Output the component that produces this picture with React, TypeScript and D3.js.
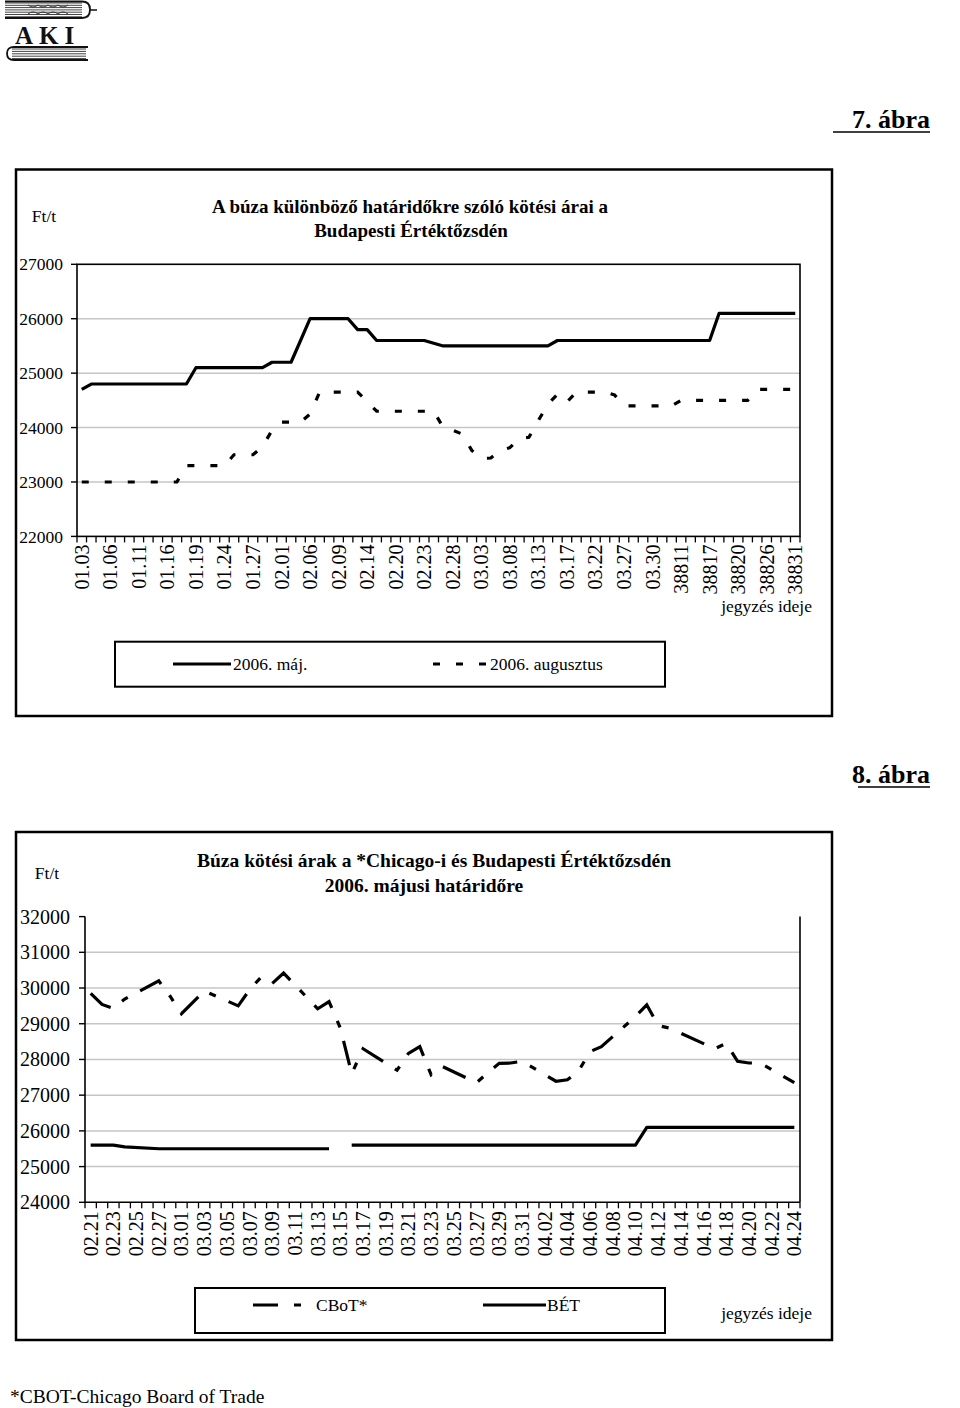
import React from "react";
import * as d3 from "d3";

const FONT = "'Liberation Serif', 'Times New Roman', serif";

// ---------- Chart 1 data ----------
const c1Categories = [
  "01.03", "01.04", "01.05", "01.06", "01.09", "01.10", "01.11", "01.12", "01.13", "01.16",
  "01.17", "01.18", "01.19", "01.20", "01.23", "01.24", "01.25", "01.26", "01.27", "01.30",
  "01.31", "02.01", "02.02", "02.03", "02.06", "02.07", "02.08", "02.09", "02.10", "02.13",
  "02.14", "02.15", "02.17", "02.20", "02.21", "02.22", "02.23", "02.24", "02.27", "02.28",
  "03.01", "03.02", "03.03", "03.06", "03.07", "03.08", "03.09", "03.10", "03.13", "03.14",
  "03.16", "03.17", "03.20", "03.21", "03.22", "03.23", "03.24", "03.27", "03.28", "03.29",
  "03.30", "03.31", "38810", "38811", "38812", "38813", "38817", "38818", "38819", "38820",
  "38824", "38825", "38826", "38827", "38828", "38831",
];
const c1May = [
  24700,
  24800, 24800, 24800, 24800, 24800, 24800, 24800, 24800, 24800, 24800, 24800,
  25100, 25100, 25100, 25100, 25100, 25100, 25100, 25100,
  25200, 25200, 25200,
  25600,
  26000, 26000, 26000, 26000, 26000,
  25800, 25800,
  25600, 25600, 25600, 25600, 25600, 25600,
  25550,
  25500, 25500, 25500, 25500, 25500, 25500, 25500, 25500, 25500, 25500, 25500, 25500,
  25600, 25600, 25600, 25600, 25600, 25600, 25600, 25600, 25600, 25600, 25600, 25600, 25600, 25600, 25600, 25600, 25600,
  26100, 26100, 26100, 26100, 26100, 26100, 26100, 26100, 26100,
];
const c1Aug = [
  23000, 23000, 23000, 23000, 23000, 23000, 23000, 23000, 23000, 23000, 23000,
  23300, 23300, 23300, 23300, 23300,
  23500, 23500, 23500,
  23650, 23950,
  24100, 24100, 24100,
  24250,
  24650, 24650, 24650, 24650, 24650,
  24480,
  24300, 24300, 24300, 24300, 24300, 24300, 24300,
  24000, 23950, 23880, 23580, 23430, 23440, 23580, 23630, 23800, 23820, 24130, 24430, 24610, 24470,
  24650, 24650, 24650, 24650,
  24600,
  24400, 24400, 24400, 24400, 24400, 24400,
  24500, 24500, 24500, 24500, 24500, 24500, 24500, 24500,
  24700, 24700, 24700, 24700, 24700,
];
const c1YTicks = [22000, 23000, 24000, 25000, 26000, 27000];

// ---------- Chart 2 data ----------
const c2Categories = [
  "02.21", "02.22", "02.23", "02.24", "02.25", "02.26", "02.27", "02.28",
  "03.01", "03.02", "03.03", "03.04", "03.05", "03.06", "03.07", "03.08", "03.09", "03.10",
  "03.11", "03.12", "03.13", "03.14", "03.15", "03.16", "03.17", "03.18", "03.19", "03.20",
  "03.21", "03.22", "03.23", "03.24", "03.25", "03.26", "03.27", "03.28", "03.29", "03.30",
  "03.31", "04.01", "04.02", "04.03", "04.04", "04.05", "04.06", "04.07", "04.08", "04.09",
  "04.10", "04.11", "04.12", "04.13", "04.14", "04.15", "04.16", "04.17", "04.18", "04.19",
  "04.20", "04.21", "04.22", "04.23", "04.24",
];
const c2TradeDays = [
  "02.21", "02.22", "02.23", "02.24", "02.27", "02.28", "03.01", "03.02", "03.03",
  "03.06", "03.07", "03.08", "03.09", "03.10", "03.13", "03.14", "03.15", "03.16", "03.17",
  "03.20", "03.21", "03.22", "03.23", "03.24", "03.27", "03.28", "03.29", "03.30", "03.31",
  "04.03", "04.04", "04.05", "04.06", "04.07", "04.10", "04.11", "04.12", "04.13",
  "04.17", "04.18", "04.19", "04.20", "04.21", "04.24",
];
const c2Cbot = [
  29850, 29540, 29430, 29690, 30200, 29770, 29280, 29600, 29920,
  29500, 29950, 30300, 30130, 30420, 29420, 29620, 28880, 27600, 28300,
  27700, 28170, 28360, 27570, 27800, 27350, 27630, 27890, 27900, 27950,
  27390, 27430, 27680, 28220, 28360, 29200, 29530, 28950, 28880,
  28300, 28450, 27950, 27900, 27900, 27350,
];
const c2Bet: (number | null)[] = [
  25600, 25600, 25600, 25550, 25500, 25500, 25500, 25500, 25500,
  25500, 25500, 25500, 25500, 25500, 25500, 25500, null, 25600, 25600,
  25600, 25600, 25600, 25600, 25600, 25600, 25600, 25600, 25600, 25600,
  25600, 25600, 25600, 25600, 25600, 25600, 26100, 26100, 26100,
  26100, 26100, 26100, 26100, 26100, 26100,
];
const c2YTicks = [24000, 25000, 26000, 27000, 28000, 29000, 30000, 31000, 32000];

// ---------- layout ----------
const P1 = { l: 77, r: 800, t: 264.3, b: 536.4 };
const P2 = { l: 85, r: 800, t: 916.6, b: 1202.3 };
const GRID = "#c6c6c6";

function Logo() {
  const topLines = d3.range(7).map((k) => 3 + k * 2.3);
  const botLines = d3.range(5).map((k) => 49 + k * 2.4);
  return (
    <g>
      {topLines.map((y, k) => (
        <line key={"t" + k} x1={5} x2={82} y1={y} y2={y} stroke="#444" strokeWidth={1} />
      ))}
      <path d="M5,1.5 L82,1.5 Q90,1.5 90,9.5 Q90,18 82,18 L5,18" fill="none" stroke="#111" strokeWidth={1.8} />
      <path d="M90,10 L97,10" stroke="#111" strokeWidth={1.5} />
      <path d="M28,5 q5,4 10,0 q5,4 10,0 q5,4 10,0 q5,4 10,0 M28,14 q5,-4 10,0 q5,-4 10,0 q5,-4 10,0 q5,-4 10,0"
        fill="none" stroke="#333" strokeWidth={1} />
      <text x={15} y={44} fontFamily={FONT} fontWeight="bold" fontSize={25} letterSpacing={6} fill="#111">AKI</text>
      {botLines.map((y, k) => (
        <line key={"b" + k} x1={12} x2={86} y1={y} y2={y} stroke="#444" strokeWidth={1} />
      ))}
      <path d="M88,47 L14,47 Q7,47 7,53.5 Q7,60 14,60 L88,60" fill="none" stroke="#111" strokeWidth={1.8} />
    </g>
  );
}

function Chart1() {
  const x = d3.scaleBand<number>().domain(d3.range(c1Categories.length)).range([P1.l, P1.r]);
  const cx = (i: number) => (x(i) as number) + x.bandwidth() / 2;
  const y = d3.scaleLinear().domain([22000, 27000]).range([P1.b, P1.t]);
  const line = d3.line<number>().x((_, i) => cx(i)).y((d) => y(d));
  const bounds = d3.range(c1Categories.length + 1).map((k) => P1.l + k * x.bandwidth());
  return (
    <g fontFamily={FONT}>
      <rect x={16} y={169.5} width={816} height={546.5} fill="none" stroke="#000" strokeWidth={2.5} />
      <text x={44} y={222} fontSize={17.5} textAnchor="middle">Ft/t</text>
      <text x={410} y={213} fontSize={19} fontWeight="bold" textAnchor="middle">
        A búza különböző határidőkre szóló kötési árai a
      </text>
      <text x={411} y={237} fontSize={19} fontWeight="bold" textAnchor="middle">Budapesti Értéktőzsdén</text>
      {c1YTicks.slice(1, -1).map((t) => (
        <line key={t} x1={P1.l} x2={P1.r} y1={y(t)} y2={y(t)} stroke={GRID} strokeWidth={1.5} />
      ))}
      <rect x={P1.l} y={P1.t} width={P1.r - P1.l} height={P1.b - P1.t} fill="none" stroke="#000" strokeWidth={1.6} />
      {c1YTicks.map((t) => (
        <g key={t}>
          <line x1={P1.l - 6} x2={P1.l} y1={y(t)} y2={y(t)} stroke="#000" strokeWidth={1.4} />
          <text x={63} y={y(t)} dy="0.35em" fontSize={17.5} textAnchor="end">{t}</text>
        </g>
      ))}
      {bounds.map((bx, k) => (
        <line key={k} x1={bx} x2={bx} y1={P1.b} y2={P1.b + 6} stroke="#000" strokeWidth={1.3} />
      ))}
      {c1Categories.map((c, i) =>
        i % 3 === 0 ? (
          <text key={c} transform={`translate(${cx(i) + 7},${P1.b + 8}) rotate(-90)`} fontSize={20} textAnchor="end">
            {c}
          </text>
        ) : null
      )}
      <path d={line(c1May) || ""} fill="none" stroke="#000" strokeWidth={3.2} strokeLinejoin="round" />
      <path d={line(c1Aug) || ""} fill="none" stroke="#000" strokeWidth={3.2} strokeDasharray="7,16" />
      <text x={812} y={612} fontSize={17.5} textAnchor="end">jegyzés ideje</text>
      <rect x={115} y={641.7} width={550} height={45} fill="none" stroke="#000" strokeWidth={2} />
      <line x1={173} x2={231} y1={664} y2={664} stroke="#000" strokeWidth={3.2} />
      <text x={233} y={669.5} fontSize={17.5}>2006. máj.</text>
      <line x1={433} x2={487} y1={664} y2={664} stroke="#000" strokeWidth={3.2} strokeDasharray="7,16" />
      <text x={490} y={669.5} fontSize={17.5}>2006. augusztus</text>
    </g>
  );
}

function Chart2() {
  const x = d3.scaleBand<string>().domain(c2Categories).range([P2.l, P2.r]);
  const cx = (d: string) => (x(d) as number) + x.bandwidth() / 2;
  const y = d3.scaleLinear().domain([24000, 32000]).range([P2.b, P2.t]);
  const cbotLine = d3.line<number>().x((_, i) => cx(c2TradeDays[i])).y((d) => y(d));
  const betLine = d3
    .line<number | null>()
    .defined((d) => d != null)
    .x((_, i) => cx(c2TradeDays[i]))
    .y((d) => y(d as number));
  const bounds = d3.range(c2Categories.length + 1).map((k) => P2.l + k * x.bandwidth());
  return (
    <g fontFamily={FONT}>
      <rect x={16} y={832} width={816} height={508} fill="none" stroke="#000" strokeWidth={2.5} />
      <text x={47} y={879} fontSize={17.5} textAnchor="middle">Ft/t</text>
      <text x={434} y={867} fontSize={19.5} fontWeight="bold" textAnchor="middle">
        Búza kötési árak a *Chicago-i és Budapesti Értéktőzsdén
      </text>
      <text x={424} y={892} fontSize={19.5} fontWeight="bold" textAnchor="middle">2006. májusi határidőre</text>
      {c2YTicks.slice(1, -1).map((t) => (
        <line key={t} x1={P2.l} x2={P2.r} y1={y(t)} y2={y(t)} stroke={GRID} strokeWidth={1.5} />
      ))}
      <line x1={P2.l} x2={P2.l} y1={P2.t} y2={P2.b} stroke="#000" strokeWidth={1.6} />
      <line x1={P2.r} x2={P2.r} y1={P2.t} y2={P2.b} stroke="#000" strokeWidth={1.6} />
      <line x1={P2.l} x2={P2.r} y1={P2.b} y2={P2.b} stroke="#000" strokeWidth={1.6} />
      {c2YTicks.map((t) => (
        <g key={t}>
          <line x1={P2.l - 6} x2={P2.l} y1={y(t)} y2={y(t)} stroke="#000" strokeWidth={1.4} />
          <text x={70} y={y(t)} dy="0.35em" fontSize={20} textAnchor="end">{t}</text>
        </g>
      ))}
      {bounds.map((bx, k) => (
        <line key={k} x1={bx} x2={bx} y1={P2.b} y2={P2.b + 6} stroke="#000" strokeWidth={1.3} />
      ))}
      {c2Categories.map((c, i) =>
        i % 2 === 0 ? (
          <text key={c} transform={`translate(${cx(c) + 7},${P2.b + 9}) rotate(-90)`} fontSize={20} textAnchor="end">
            {c}
          </text>
        ) : null
      )}
      <path d={betLine(c2Bet) || ""} fill="none" stroke="#000" strokeWidth={3.2} strokeLinejoin="round" />
      <path d={cbotLine(c2Cbot) || ""} fill="none" stroke="#000" strokeWidth={3.2} strokeDasharray="25,14,7,14" />
      <rect x={195} y={1288} width={470} height={45} fill="none" stroke="#000" strokeWidth={2} />
      <line x1={253} x2={301} y1={1305} y2={1305} stroke="#000" strokeWidth={3.2} strokeDasharray="25,16,7,14" />
      <text x={316} y={1311} fontSize={17.5}>CBoT*</text>
      <line x1={483} x2={546} y1={1305} y2={1305} stroke="#000" strokeWidth={3.2} />
      <text x={547} y={1311} fontSize={17.5}>BÉT</text>
      <text x={812} y={1319} fontSize={17.5} textAnchor="end">jegyzés ideje</text>
    </g>
  );
}

export default function App() {
  return (
    <svg width={960} height={1408} style={{ position: "absolute", left: 0, top: 0, background: "#fff" }}>
      <rect x={0} y={0} width={960} height={1408} fill="#fff" />
      <Logo />
      <text x={930} y={128} fontFamily={FONT} fontWeight="bold" fontSize={26} textAnchor="end">7. ábra</text>
      <line x1={833} x2={930} y1={132} y2={132} stroke="#000" strokeWidth={1.6} />
      <Chart1 />
      <text x={930} y={783} fontFamily={FONT} fontWeight="bold" fontSize={26} textAnchor="end">8. ábra</text>
      <line x1={858} x2={930} y1={787} y2={787} stroke="#000" strokeWidth={1.6} />
      <Chart2 />
      <text x={10} y={1403} fontFamily={FONT} fontSize={19.5}>*CBOT-Chicago Board of Trade</text>
    </svg>
  );
}
